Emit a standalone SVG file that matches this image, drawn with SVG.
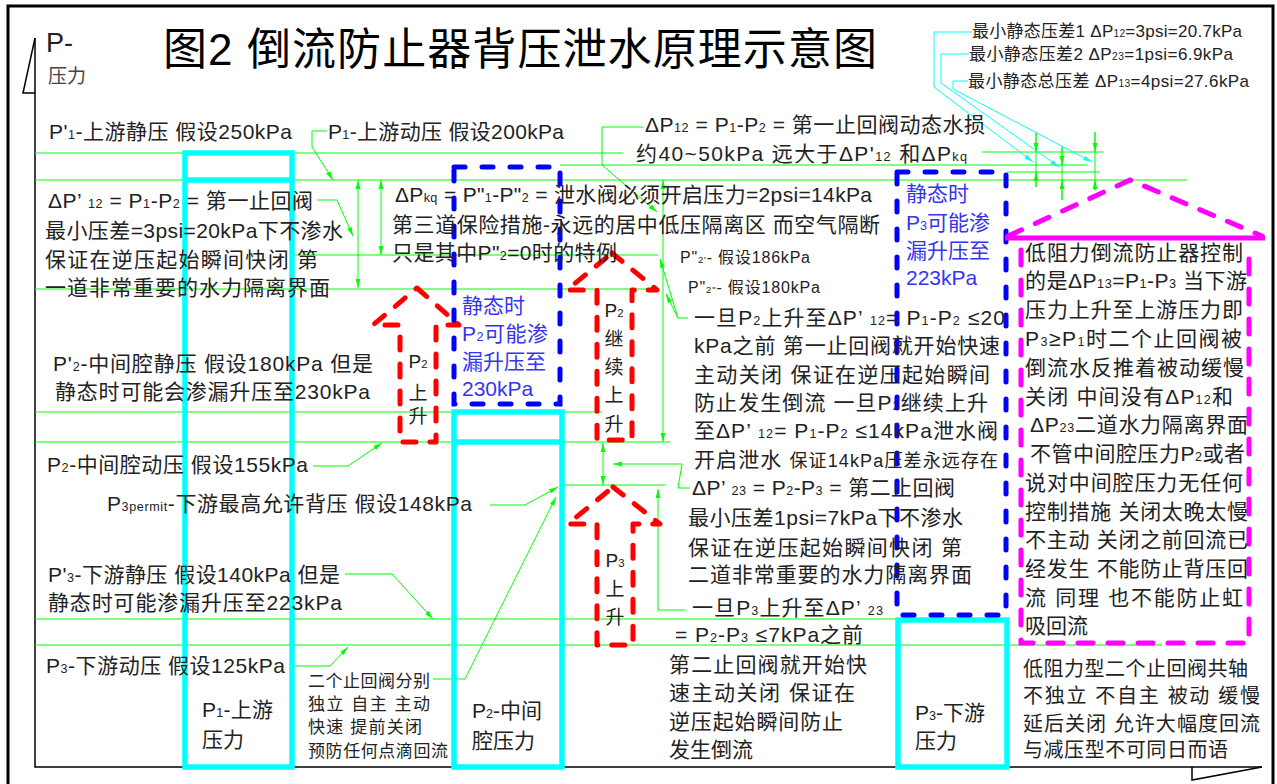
<svg xmlns="http://www.w3.org/2000/svg" width="1277" height="784" viewBox="0 0 1277 784">
<defs>
<marker id="ag" markerUnits="userSpaceOnUse" markerWidth="10" markerHeight="6" refX="9" refY="3" orient="auto-start-reverse" viewBox="0 0 10 6"><path d="M0,0.6 L9,3 L0,5.4 z" fill="#00ff00"/></marker>
<marker id="ac" markerUnits="userSpaceOnUse" markerWidth="10" markerHeight="6" refX="9" refY="3" orient="auto-start-reverse" viewBox="0 0 10 6"><path d="M0,0.6 L9,3 L0,5.4 z" fill="#00ffff"/></marker>
<style>
.gl{fill:none;stroke:#00ff00;stroke-width:1}
.ga{fill:none;stroke:#00ff00;stroke-width:1;marker-end:url(#ag)}
.gd{fill:none;stroke:#00ff00;stroke-width:1;marker-start:url(#ag);marker-end:url(#ag)}
.cl{fill:none;stroke:#00ffff;stroke-width:1;marker-end:url(#ac)}
.cy{fill:none;stroke:#00ffff;stroke-width:5.5}
.bl{fill:none;stroke:#0000ff;stroke-width:5;stroke-dasharray:11 17;stroke-linecap:round}
.rd{fill:none;stroke:#ff0000;stroke-width:5;stroke-dasharray:13 14;stroke-linecap:round;stroke-linejoin:round}
.mg{fill:none;stroke:#ff00ff;stroke-width:5;stroke-dasharray:15 15;stroke-linecap:round}
.ms{fill:none;stroke:#ff00ff;stroke-width:5}
.ax{fill:none;stroke:#000;stroke-width:1.5}
.t{font-family:"Liberation Sans","Noto Sans CJK SC",sans-serif;font-size:21px;fill:#222}
.tt{font-size:44px;fill:#000}
.pa{font-size:27px}
.pl{font-size:19px;fill:#444}
.f16{font-size:16px}
.f17{font-size:17px}
.f18{font-size:18px}
.f19{font-size:19px}
.f20{font-size:20px}
.s{font-size:0.6em}
.bt{fill:#3535f0}
.m{text-anchor:middle}
</style>
</defs>
<rect x="0" y="0" width="1277" height="784" fill="#fff"/>
<g id="frame">
<rect x="8" y="6" width="1265" height="800" fill="none" stroke="#000" stroke-width="3"/>
<path class="ax" d="M35,38 V767 H1262"/>
<path class="ax" d="M35,38 L23,93 H35"/>
<path class="ax" d="M1192,767 V780 L1262,767"/>
</g>

<g id="connectors">
<path class="gl" d="M35,153 H623 M982,152 H1103 M560,165 H1088 M1007,172 H1100 M35,180 H1187 M292,255 H658 M35,289 H657 M35,412 H602 M35,442 H670 M562,485 H665 M35,619 H930 M35,645 H1162"/>
<path class="gd" d="M358,180 V288"/>
<path class="gd" d="M381,180 V255"/>
<path class="gd" d="M663,180 V442"/>
<path class="gd" d="M603,443 V485"/>
<path class="gl" d="M1036,133 V187 M1062,147 V200 M1095,132 V190"/>
<path class="ga" d="M1036,133 V152"/>
<path class="ga" d="M1036,187 V172"/>
<path class="ga" d="M1062,147 V165"/>
<path class="ga" d="M1062,200 V180"/>
<path class="ga" d="M1095,132 V152"/>
<path class="ga" d="M1095,190 V180"/>
<path class="ga" d="M327,131 H312 V147 L333,180"/>
<path class="ga" d="M317,200 H337 L353,236"/>
<path class="ga" d="M643,127 H602 V165 L657,212"/>
<path class="ga" d="M688,318 H678 L660,259"/>
<path class="ga" d="M678,318 L666,294"/>
<path class="ga" d="M313,466 H348 L382,443"/>
<path class="ga" d="M690,488 H678 L682,464 H613"/>
<path class="ga" d="M490,505 H525 L558,487"/>
<path class="ga" d="M433,679 H465 L556,497"/>
<path class="ga" d="M685,610 H658 V489"/>
<path class="ga" d="M345,574 H392 L433,619"/>
<path class="ga" d="M295,666 H330 L348,647"/>
<path class="cl" d="M972,32 H934 V87 L1033,162"/>
<path class="cl" d="M969,54 H941 V83 L1059,167"/>
<path class="cl" d="M968,81 H953 V89 L1092,162"/>
</g>

<g id="title">
<text class="t tt" x="163" y="65" textLength="714">图2 倒流防止器背压泄水原理示意图</text>
<text class="t pa" x="46" y="52">P-</text>
<text class="t pl" x="48" y="83">压力</text>
</g>

<g id="p1-box">
<rect class="cy" x="185" y="153" width="107" height="614"/>
<path class="cy" d="M185,180 H292"/>
<text class="t" x="202" y="717" textLength="71">P<tspan class="s">1</tspan>-上游</text>
<text class="t" x="202" y="747">压力</text>
</g>

<g id="p2-box">
<rect class="cy" x="454" y="412" width="108" height="355"/>
<path class="cy" d="M454,442 H562"/>
<text class="t" x="472" y="718" textLength="70">P<tspan class="s">2</tspan>-中间</text>
<text class="t" x="472" y="748">腔压力</text>
</g>

<g id="p3-box">
<rect class="cy" x="898" y="620" width="109" height="147"/>
<text class="t" x="915" y="720" textLength="70">P<tspan class="s">3</tspan>-下游</text>
<text class="t" x="915" y="748">压力</text>
</g>

<g id="p2-leak-box">
<rect class="bl" x="454" y="167" width="106" height="237"/>
<text class="t bt" x="462" y="313">静态时</text>
<text class="t bt" x="462" y="341" textLength="86">P<tspan class="s">2</tspan>可能渗</text>
<text class="t bt" x="462" y="369">漏升压至</text>
<text class="t bt" x="462" y="396">230kPa</text>
</g>

<g id="p3-leak-box">
<rect class="bl" x="897" y="172" width="109" height="443"/>
<text class="t bt" x="906" y="201">静态时</text>
<text class="t bt" x="906" y="230" textLength="84">P<tspan class="s">3</tspan>可能渗</text>
<text class="t bt" x="906" y="258">漏升压至</text>
<text class="t bt" x="906" y="285">223kPa</text>
</g>

<g id="arrow-p2-rise">
<path class="rd" d="M417,288 L459,325 L436,325 L436,442 L400,442 L400,325 L373,325 Z"/>
<text class="t f19 m" x="418" y="368">P<tspan class="s">2</tspan></text>
<text class="t f19 m" x="418" y="400">上</text>
<text class="t f19 m" x="418" y="423">升</text>
</g>

<g id="arrow-p2-continue">
<path class="rd" d="M612,253 L657,290 L632,290 L632,440 L597,440 L597,290 L567,290 Z"/>
<text class="t f19 m" x="614" y="317">P<tspan class="s">2</tspan></text>
<text class="t f19 m" x="614" y="346">继</text>
<text class="t f19 m" x="614" y="374">续</text>
<text class="t f19 m" x="614" y="402">上</text>
<text class="t f19 m" x="614" y="431">升</text>
</g>

<g id="arrow-p3-rise">
<path class="rd" d="M613,487 L660,524 L633,524 L633,645 L597,645 L597,524 L568,524 Z"/>
<text class="t f19 m" x="615" y="567">P<tspan class="s">3</tspan></text>
<text class="t f19 m" x="615" y="596">上</text>
<text class="t f19 m" x="615" y="624">升</text>
</g>

<g id="low-resistance-box">
<path class="mg" d="M1008,236 L1130,180 L1262,236"/>
<path class="ms" d="M1005,238 H1265"/>
<path class="mg" d="M1021,250 V643 H1249 V250"/>
<text class="t" x="1025" y="260" textLength="218">低阻力倒流防止器控制</text>
<text class="t" x="1025" y="288" textLength="222">的是ΔP<tspan class="s">13</tspan>=P<tspan class="s">1</tspan>-P<tspan class="s">3</tspan> 当下游</text>
<text class="t" x="1025" y="317" textLength="218">压力上升至上游压力即</text>
<text class="t" x="1025" y="346" textLength="217">P<tspan class="s">3</tspan>≥P<tspan class="s">1</tspan>时二个止回阀被</text>
<text class="t" x="1025" y="375" textLength="219">倒流水反推着被动缓慢</text>
<text class="t" x="1025" y="404" textLength="208">关闭 中间没有ΔP<tspan class="s">12</tspan>和</text>
<text class="t" x="1030" y="432" textLength="218">ΔP<tspan class="s">23</tspan>二道水力隔离界面</text>
<text class="t" x="1030" y="461" textLength="215">不管中间腔压力P<tspan class="s">2</tspan>或者</text>
<text class="t" x="1025" y="490" textLength="218">说对中间腔压力无任何</text>
<text class="t" x="1025" y="519" textLength="223">控制措施 关闭太晚太慢</text>
<text class="t" x="1025" y="547" textLength="223">不主动 关闭之前回流已</text>
<text class="t" x="1025" y="576" textLength="223">经发生 不能防止背压回</text>
<text class="t" x="1025" y="605" textLength="218">流  同理  也不能防止虹</text>
<text class="t" x="1025" y="633">吸回流</text>
</g>

<g id="low-resistance-note">
<text class="t f20" x="1023" y="676" textLength="225">低阻力型二个止回阀共轴</text>
<text class="t f20" x="1023" y="703" textLength="237">不独立  不自主  被动  缓慢</text>
<text class="t f20" x="1023" y="731" textLength="237">延后关闭  允许大幅度回流</text>
<text class="t f20" x="1023" y="757" textLength="205">与减压型不可同日而语</text>
</g>

<g id="static-diff-labels">
<text class="t f17" x="972" y="37" textLength="270">最小静态压差1 ΔP<tspan class="s">12</tspan>=3psi=20.7kPa</text>
<text class="t f17" x="969" y="60" textLength="264">最小静态压差2 ΔP<tspan class="s">23</tspan>=1psi=6.9kPa</text>
<text class="t f17" x="968" y="87" textLength="281">最小静态总压差 ΔP<tspan class="s">13</tspan>=4psi=27.6kPa</text>
</g>

<g id="p1-static">
<text class="t" x="49" y="139" textLength="243">P'<tspan class="s">1</tspan>-上游静压 假设250kPa</text>
</g>
<g id="p1-dynamic">
<text class="t" x="328" y="139" textLength="236">P<tspan class="s">1</tspan>-上游动压 假设200kPa</text>
</g>

<g id="dp12-note">
<text class="t" x="645" y="132" textLength="340">ΔP<tspan class="s">12</tspan> = P<tspan class="s">1</tspan>-P<tspan class="s">2</tspan> = 第一止回阀动态水损</text>
<text class="t" x="636" y="161" textLength="331">约40~50kPa  远大于ΔP'<tspan class="s">12</tspan> 和ΔP<tspan class="s">kq</tspan></text>
</g>

<g id="dp12-static-note">
<text class="t" x="48" y="208" textLength="265">ΔP’ <tspan class="s">12</tspan> = P<tspan class="s">1</tspan>-P<tspan class="s">2</tspan> = 第一止回阀</text>
<text class="t" x="45" y="238" textLength="298">最小压差=3psi=20kPa下不渗水</text>
<text class="t" x="45" y="267" textLength="273">保证在逆压起始瞬间快闭  第</text>
<text class="t" x="45" y="295" textLength="285">一道非常重要的水力隔离界面</text>
</g>

<g id="dpkq-note">
<text class="t" x="395" y="202" textLength="477">ΔP<tspan class="s">kq</tspan> = P"<tspan class="s">1</tspan>-P"<tspan class="s">2</tspan> = 泄水阀必须开启压力=2psi=14kPa</text>
<text class="t" x="392" y="232" textLength="488">第三道保险措施-永远的居中低压隔离区 而空气隔断</text>
<text class="t" x="392" y="260" textLength="225">只是其中P"<tspan class="s">2</tspan>=0时的特例</text>
</g>

<g id="p2-relief-values">
<text class="t f16" x="680" y="263" textLength="130">P"<tspan class="s">2'</tspan>- 假设186kPa</text>
<text class="t f16" x="688" y="293" textLength="132">P"<tspan class="s">2"</tspan>- 假设180kPa</text>
</g>

<g id="first-check-note">
<text class="t" x="694" y="325" textLength="311">一旦P<tspan class="s">2</tspan>上升至ΔP’ <tspan class="s">12</tspan>= P<tspan class="s">1</tspan>-P<tspan class="s">2</tspan> ≤20</text>
<text class="t" x="694" y="353" textLength="306">kPa之前 第一止回阀就开始快速</text>
<text class="t" x="694" y="382" textLength="296">主动关闭  保证在逆压起始瞬间</text>
<text class="t" x="694" y="410" textLength="294">防止发生倒流  一旦P<tspan class="s">2</tspan>继续上升</text>
<text class="t" x="694" y="438" textLength="304">至ΔP’ <tspan class="s">12</tspan>= P<tspan class="s">1</tspan>-P<tspan class="s">2</tspan> ≤14kPa泄水阀</text>
<text class="t" x="694" y="467" textLength="304">开启泄水  <tspan class="f18">保证14kPa压差永远存在</tspan></text>
</g>

<g id="second-check-note">
<text class="t" x="692" y="495" textLength="263">ΔP’ <tspan class="s">23</tspan> = P<tspan class="s">2</tspan>-P<tspan class="s">3</tspan> = 第二止回阀</text>
<text class="t" x="688" y="525" textLength="275">最小压差1psi=7kPa下不渗水</text>
<text class="t" x="688" y="555" textLength="274">保证在逆压起始瞬间快闭  第</text>
<text class="t" x="688" y="582" textLength="284">二道非常重要的水力隔离界面</text>
<text class="t" x="692" y="615" textLength="191">一旦P<tspan class="s">3</tspan>上升至ΔP’ <tspan class="s">23</tspan></text>
<text class="t" x="675" y="642" textLength="188">= P<tspan class="s">2</tspan>-P<tspan class="s">3</tspan> ≤7kPa之前</text>
<text class="t" x="669" y="672" textLength="198">第二止回阀就开始快</text>
<text class="t" x="669" y="700" textLength="186">速主动关闭  保证在</text>
<text class="t" x="669" y="729" textLength="174">逆压起始瞬间防止</text>
<text class="t" x="669" y="757">发生倒流</text>
</g>

<g id="p2-static">
<text class="t" x="53" y="371" textLength="320">P'<tspan class="s">2</tspan>-中间腔静压 假设180kPa  但是</text>
<text class="t" x="55" y="399" textLength="315">静态时可能会渗漏升压至230kPa</text>
</g>
<g id="p2-dynamic">
<text class="t" x="47" y="472" textLength="261">P<tspan class="s">2</tspan>-中间腔动压 假设155kPa</text>
</g>
<g id="p3-permit">
<text class="t" x="107" y="511" textLength="365">P<tspan class="s">3permit</tspan>-下游最高允许背压  假设148kPa</text>
</g>
<g id="p3-static">
<text class="t" x="48" y="582" textLength="292">P'<tspan class="s">3</tspan>-下游静压 假设140kPa 但是</text>
<text class="t" x="48" y="610" textLength="294">静态时可能渗漏升压至223kPa</text>
</g>
<g id="p3-dynamic">
<text class="t" x="46" y="673" textLength="239">P<tspan class="s">3</tspan>-下游动压 假设125kPa</text>
</g>
<g id="two-checks-note">
<text class="t f17" x="308" y="687" textLength="122">二个止回阀分别</text>
<text class="t f17" x="308" y="710" textLength="122">独立  自主  主动</text>
<text class="t f17" x="308" y="733" textLength="114">快速  提前关闭</text>
<text class="t f17" x="308" y="757" textLength="140">预防任何点滴回流</text>
</g>
</svg>
